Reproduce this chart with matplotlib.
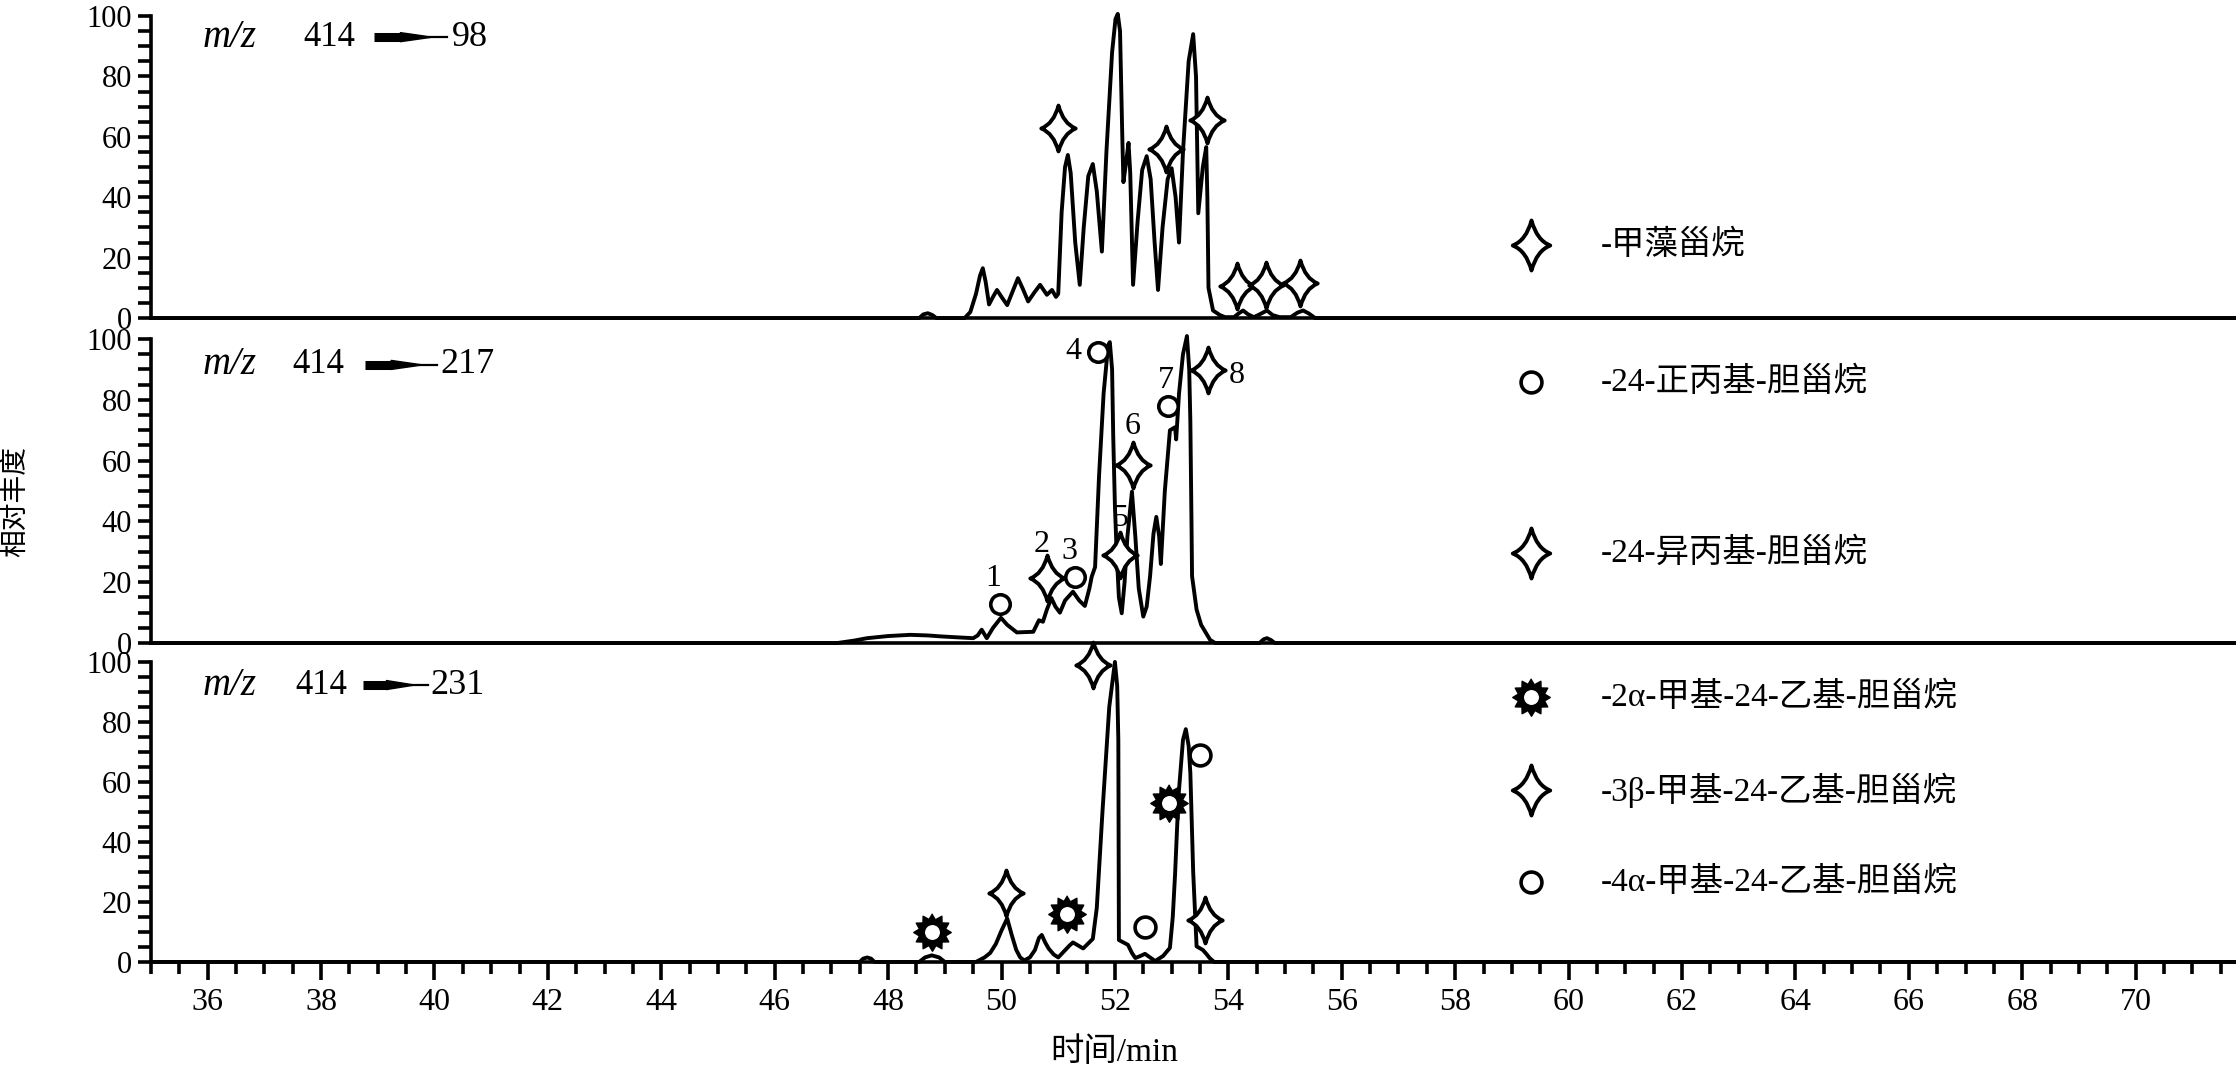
import matplotlib
matplotlib.use("Agg")
import matplotlib.pyplot as plt
import numpy as np
from matplotlib.path import Path
from matplotlib.ticker import MultipleLocator

plt.rcParams["font.family"] = ["Liberation Serif", "Noto Sans CJK SC"]
plt.rcParams["axes.linewidth"] = 2.6

# ---- data (time / min, relative abundance) ----
top_t = [35, 48.55, 48.62, 48.7, 48.78, 48.85, 49.35, 49.45, 49.55, 49.62, 49.67, 49.72,
         49.78, 49.85, 49.92, 50.0, 50.1, 50.2, 50.29, 50.38, 50.47, 50.58, 50.68, 50.8,
         50.89, 50.96, 51.0, 51.06, 51.12, 51.17, 51.22, 51.3, 51.38, 51.45, 51.53, 51.61,
         51.68, 51.77, 51.85, 51.95, 52.01, 52.05, 52.09, 52.13, 52.15, 52.2, 52.24, 52.27,
         52.32, 52.4, 52.48, 52.56, 52.63, 52.7, 52.76, 52.84, 52.93, 53.0, 53.07, 53.13,
         53.2, 53.3, 53.38, 53.43, 53.47, 53.55, 53.61, 53.63, 53.65, 53.73, 53.85, 53.94,
         54.1, 54.18, 54.26, 54.35, 54.45, 54.55, 54.68, 54.78, 54.9, 55.1, 55.22, 55.32,
         55.42, 55.53, 71.77]
top_y = [0, 0, 1.2, 1.6, 1.0, 0, 0, 2, 8, 14, 16.5, 12,
         4.5, 7, 9.3, 7, 4.3, 9, 13.2, 9.5, 5.5, 8.5, 11, 7.7,
         9.3, 7, 8, 35, 50, 54, 48, 25, 11, 30, 47, 51,
         42, 22, 55, 88, 99, 100.7, 95, 60, 45, 52, 58, 48,
         11, 32, 49, 53.6, 46, 25, 9.3, 30, 46, 49.6, 40, 25,
         55, 85, 94, 80, 34.7, 50, 56.6, 40, 10, 2.5, 1, 0.3,
         0.3, 1.5, 2.5, 1.2, 0.3, 1.2, 2.5, 1, 0.3, 0.3, 1.8, 2.5,
         1.5, 0, 0]

mid_t = [35, 47.1, 47.4, 47.63, 48.0, 48.39, 48.7, 48.92, 49.2, 49.5, 49.58, 49.65,
         49.74, 49.85, 49.99, 50.1, 50.27, 50.56, 50.66, 50.73, 50.8, 50.88, 50.95, 51.03,
         51.12, 51.26, 51.37, 51.47, 51.55, 51.59, 51.65, 51.72, 51.8, 51.88, 51.91, 51.95,
         51.97, 52.0, 52.03, 52.07, 52.12, 52.17, 52.22, 52.3, 52.36, 52.42, 52.5, 52.56,
         52.62, 52.68, 52.73, 52.78, 52.81, 52.88, 52.97, 53.06, 53.08, 53.13, 53.2, 53.27,
         53.31, 53.33, 53.35, 53.36, 53.44, 53.52, 53.59, 53.68, 53.77, 54.55, 54.62, 54.68,
         54.75, 54.82, 71.77]
mid_y = [0, 0, 0.8, 1.6, 2.3, 2.7, 2.5, 2.2, 1.9, 1.6, 2.5, 4.4,
         1.6, 5, 8.3, 6, 3.5, 3.7, 7.5, 7, 11, 14.8, 12, 10,
         14, 16.9, 14, 12.2, 18, 21.8, 25, 55, 82, 98, 99, 90,
         68, 45, 30, 15, 9.8, 20, 35, 49.8, 35, 18, 8.7, 12,
         22, 36, 41.5, 35, 26, 50, 70, 71, 67, 82, 95, 101,
         90, 73, 40, 22, 11, 6, 3.8, 1, 0, 0, 1.2, 1.6,
         1.0, 0, 0]

bot_t = [35, 47.5, 47.56, 47.63, 47.7, 47.76, 48.55, 48.65, 48.77, 48.9, 49.0, 49.55,
         49.7, 49.8, 49.9, 50.0, 50.1, 50.18, 50.26, 50.33, 50.4, 50.5, 50.59, 50.66,
         50.71, 50.77, 50.83, 50.92, 51.0, 51.1, 51.2, 51.26, 51.35, 51.44, 51.52, 51.61,
         51.68, 51.78, 51.9, 52.0, 52.04, 52.06, 52.07, 52.15, 52.23, 52.3, 52.36, 52.45,
         52.53, 52.62, 52.71, 52.85, 52.97, 53.02, 53.06, 53.12, 53.2, 53.25, 53.3, 53.33,
         53.38, 53.44, 53.55, 53.62, 53.67, 53.75, 71.77]
bot_y = [0, 0, 1.1, 1.5, 1.1, 0, 0, 1.5, 2.2, 1.5, 0, 0,
         1.5, 3, 6, 10.5, 14.5, 9, 4, 1.5, 0.5, 1.5, 4, 8,
         9, 6.5, 4.5, 2.5, 1.5, 3.5, 5.5, 6.5, 5.5, 4.5, 6, 7.7,
         18, 50, 85, 100, 92, 74, 7.3, 6.5, 5.7, 3, 1.3, 2,
         2.7, 1.5, 0.3, 2, 4.7, 15, 29, 55, 74, 77.6, 72, 63,
         30, 5.2, 4, 2.5, 1.3, 0, 0]

# peak markers
top_star_t = [51.0, 52.9, 53.62, 54.15, 54.66, 55.27]
top_star_y = [63, 56, 65.6, 10.6, 11, 11.7]

mid_circle_t = [49.97, 51.3, 51.7, 52.94]
mid_circle_y = [13, 21.8, 95.8, 78]
mid_circle_lab = ["1", "3", "4", "7"]
mid_star_t = [50.8, 52.09, 52.32, 53.64]
mid_star_y = [21.3, 29, 58.5, 89.8]
mid_star_lab = ["2", "5", "6", "8"]

bot_sun_t = [48.77, 51.15, 52.95]
bot_sun_y = [10, 16, 53]
bot_star_t = [50.08, 51.62, 53.59]
bot_star_y = [23, 99, 14]
bot_circle_t = [52.53, 53.5]
bot_circle_y = [11.5, 69]

ion_labels = ["98", "217", "231"]

legend_top = [("star", "-甲藻甾烷", 24.2)]
legend_mid = [("circle", "-24-正丙基-胆甾烷", 85.9), ("star", "-24-异丙基-胆甾烷", 29.6)]
legend_bot = [("sun", "-2α-甲基-24-乙基-胆甾烷", 88.3),
              ("star", "-3β-甲基-24-乙基-胆甾烷", 57.3),
              ("circle", "-4α-甲基-24-乙基-胆甾烷", 26.7)]


# 4-point star with concave sides
def star4_path():
    tips = [(0, 1), (0.75, 0), (0, -1), (-0.75, 0)]
    c = 0.21
    ctrl = [(c, c), (c, -c), (-c, -c), (-c, c)]
    verts = [tips[0]]
    codes = [Path.MOVETO]
    for i in range(4):
        verts += [ctrl[i], tips[(i + 1) % 4]]
        codes += [Path.CURVE3, Path.CURVE3]
    verts.append(tips[0])
    codes.append(Path.CLOSEPOLY)
    return Path(verts, codes)


STAR = star4_path()
ang = np.linspace(0, 2 * np.pi, 25)[:-1] + np.pi / 2
rad = np.where(np.arange(24) % 2 == 0, 1.0, 0.72)
SUN = Path(np.column_stack([rad * np.cos(ang), rad * np.sin(ang)]))


def draw_star(ax, t, y, ms=33):
    ax.plot(t, y, ls="none", marker=STAR, ms=ms, mfc="white", mec="black",
            mew=2.8, clip_on=False, zorder=5)


def draw_circle(ax, t, y, ms=14):
    ax.plot(t, y, ls="none", marker="o", ms=ms, mfc="white", mec="black",
            mew=2.6, clip_on=False, zorder=5)


def draw_sun(ax, t, y, ms=27):
    ax.plot(t, y, ls="none", marker=SUN, ms=ms, mfc="black", mec="black",
            mew=1, clip_on=False, zorder=5)
    ax.plot(t, y, ls="none", marker="o", ms=ms * 0.36, mfc="white", mec="white",
            clip_on=False, zorder=6)


drawers = {"star": draw_star, "circle": draw_circle, "sun": draw_sun}

fig = plt.figure(figsize=(22.36, 10.68), dpi=100)
left, width = 0.0675, 0.9325
ax_top = fig.add_axes([left, 0.7022, width, 0.2828])
ax_mid = fig.add_axes([left, 0.3979, width, 0.2846])
ax_bot = fig.add_axes([left, 0.0993, width, 0.2809])
axes = [ax_top, ax_mid, ax_bot]
traces = [(top_t, top_y), (mid_t, mid_y), (bot_t, bot_y)]

# where the "m/z 414 -> xx" labels sit (x in min, y in abundance)
ion_pos = [(36.38, 37.68, 38.93, 40.22, 40.3, 93),
           (36.38, 37.5, 38.77, 40.05, 40.1, 91.5),
           (36.38, 37.54, 38.74, 39.88, 39.93, 92.3)]

for ax, (t, y), lab, pos in zip(axes, traces, ion_labels, ion_pos):
    ax.plot(t, y, color="black", lw=2.8, clip_on=False, zorder=3)
    ax.set_xlim(35, 71.77)
    ax.set_ylim(0, 100)
    for s in ["top", "right"]:
        ax.spines[s].set_visible(False)
    ax.yaxis.set_major_locator(MultipleLocator(20))
    ax.yaxis.set_minor_locator(MultipleLocator(5))
    ax.tick_params(axis="y", which="both", direction="out", length=9.5, width=2.6,
                   labelsize=22, pad=4)
    ax.patch.set_alpha(0)

    xm, x414, xa0, xa1, xn, yl = pos
    ax.text(xm, yl, "m/z", fontsize=28, style="italic", ha="center", va="center")
    ax.text(x414, yl, "414", fontsize=25, ha="left", va="center")
    span = xa1 - xa0
    x_thick = xa0 + 0.38 * span
    x_tip = xa0 + 0.8 * span
    ax.plot([xa0, x_thick], [yl, yl], color="black", lw=6.5, solid_capstyle="butt")
    ax.annotate("", xy=(x_tip, yl), xytext=(x_thick - 0.02, yl),
                arrowprops=dict(arrowstyle="wedge,tail_width=0.65,shrink_factor=0.5",
                                mutation_scale=10, color="black", shrinkA=0, shrinkB=0))
    ax.plot([x_tip - 0.05, xa1], [yl, yl], color="black", lw=1.6)
    ax.text(xn, yl, lab, fontsize=26, ha="left", va="center")

for ax in [ax_top, ax_mid]:
    ax.tick_params(axis="x", which="both", bottom=False, labelbottom=False)

ax_bot.xaxis.set_major_locator(MultipleLocator(2))
ax_bot.xaxis.set_minor_locator(MultipleLocator(0.5))
ax_bot.set_xticks(np.arange(36, 71, 2))
ax_bot.tick_params(axis="x", which="major", direction="out", length=13, width=2.6,
                   labelsize=23, pad=6)
ax_bot.tick_params(axis="x", which="minor", direction="out", length=8.5, width=2.6)

# markers on peaks
draw_star(ax_top, top_star_t, top_star_y)
draw_circle(ax_mid, mid_circle_t, mid_circle_y)
draw_star(ax_mid, mid_star_t, mid_star_y)
draw_sun(ax_bot, bot_sun_t, bot_sun_y)
draw_star(ax_bot, bot_star_t, bot_star_y)
draw_circle(ax_bot, bot_circle_t, bot_circle_y, ms=15)

# peak numbers, offsets in points
num_offsets = {"1": (-5, 18), "2": (-4, 24), "3": (-4, 18), "4": (-18, 0),
               "5": (0, 26), "6": (0, 28), "7": (-2, 18), "8": (21, -4)}
for tt, yy, lb in list(zip(mid_circle_t, mid_circle_y, mid_circle_lab)) + \
        list(zip(mid_star_t, mid_star_y, mid_star_lab)):
    ax_mid.annotate(lb, (tt, yy), xytext=num_offsets[lb], textcoords="offset points",
                    fontsize=23, ha="center", va="center", zorder=7)

# legend entries on the right
for ax, entries in [(ax_top, legend_top), (ax_mid, legend_mid), (ax_bot, legend_bot)]:
    for kind, text, yy in entries:
        ms = {"star": 36, "circle": 15, "sun": 27}[kind]
        drawers[kind](ax, [59.34], [yy], ms=ms)
        ax.text(60.56, yy, text, fontsize=24, ha="left", va="center")

fig.text(0.0076, 0.53, "相对丰度", rotation=90, fontsize=20, ha="center", va="center")
fig.text(1114 / 2236, 1 - 1053 / 1068, "时间/min", fontsize=24, ha="center", va="center")

fig.savefig("out.png", dpi=100, facecolor="white")
